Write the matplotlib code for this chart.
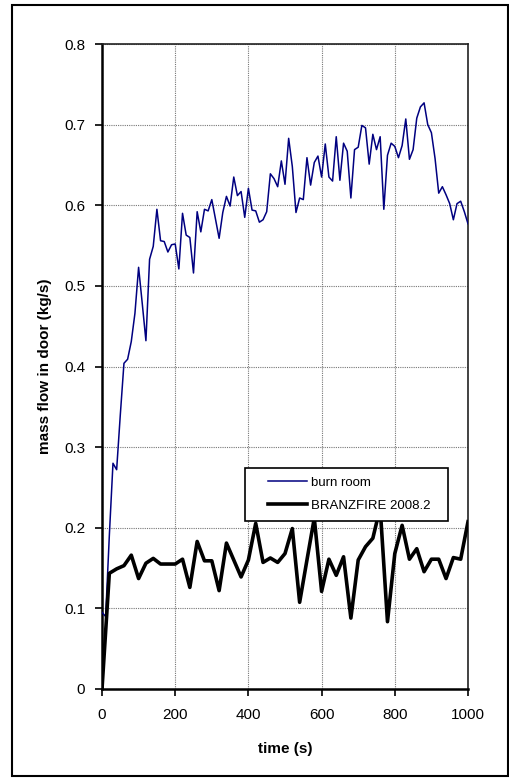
import numpy as np
import matplotlib
matplotlib.use("Agg")
from matplotlib import pyplot as plt
from matplotlib.patches import Rectangle

plt.rcParams['font.family'] = ['Liberation Sans', 'DejaVu Sans']

# burn room measurement, every 10 s from 0 to 1000 s
burn_t = np.arange(0, 1001, 10)
burn_room = [
    0.095, 0.090, 0.190, 0.280, 0.272, 0.340, 0.404, 0.409, 0.431, 0.466,
    0.523, 0.478, 0.432, 0.533, 0.549, 0.595, 0.556, 0.555, 0.542, 0.551,
    0.552, 0.521, 0.590, 0.563, 0.560, 0.516, 0.592, 0.567, 0.595, 0.593,
    0.607, 0.583, 0.559, 0.591, 0.611, 0.599, 0.635, 0.612, 0.617, 0.585,
    0.621, 0.594, 0.593, 0.579, 0.582, 0.592, 0.639, 0.633, 0.623, 0.655,
    0.626, 0.683, 0.648, 0.591, 0.609, 0.607, 0.659, 0.625, 0.653, 0.661,
    0.635, 0.676, 0.635, 0.630, 0.685, 0.631, 0.677, 0.667, 0.609, 0.669,
    0.672, 0.699, 0.696, 0.651, 0.688, 0.669, 0.685, 0.595, 0.662, 0.677,
    0.673, 0.659, 0.674, 0.707, 0.657, 0.669, 0.708, 0.722, 0.727, 0.700,
    0.690, 0.658, 0.615, 0.623, 0.613, 0.602, 0.582, 0.602, 0.605, 0.592,
    0.577,
]

# BRANZFIRE model, every 20 s
branz_t = np.arange(0, 1001, 20)
branzfire = [
    0.0, 0.1435, 0.149, 0.153, 0.166, 0.137, 0.156, 0.162, 0.155, 0.155,
    0.155, 0.161, 0.126, 0.183, 0.159, 0.159, 0.122, 0.181, 0.160, 0.139,
    0.160, 0.2055, 0.157, 0.1625, 0.157, 0.168, 0.199, 0.1075, 0.160, 0.212,
    0.121, 0.161, 0.141, 0.164, 0.088, 0.160, 0.1765, 0.187, 0.225, 0.0835,
    0.168, 0.203, 0.161, 0.174, 0.1455, 0.161, 0.161, 0.137, 0.163, 0.161,
    0.2075,
]

xticks = [0, 200, 400, 600, 800, 1000]
yticks = [0, 0.1, 0.2, 0.3, 0.4, 0.5, 0.6, 0.7, 0.8]

fig = plt.figure(figsize=(5.1, 7.8), dpi=100)
ax = fig.add_axes([102/510, 1-689/780, 366/510, 645/780])

ax.plot(burn_t, burn_room, color="#000080", lw=1.1, label="burn room", zorder=3)
ax.plot(branz_t, branzfire, color="black", lw=2.6, label="BRANZFIRE 2008.2", zorder=3)

ax.set_xlim(0, 1000)
ax.set_ylim(0, 0.8)
ax.set_xticks(xticks)
ax.set_yticks(yticks)
ax.set_yticklabels(["%g" % v for v in yticks])
ax.tick_params(labelsize=11, length=5, width=1.2)
ax.tick_params(axis='x', pad=9)
ax.tick_params(axis='y', pad=7)
ax.grid(True, color="#777777", lw=0.8, ls=(0, (1, 1)))
ax.set_axisbelow(True)

for side in ['left', 'bottom']:
    ax.spines[side].set_linewidth(1.8)
for side in ['top', 'right']:
    ax.spines[side].set_linewidth(1.2)
    ax.spines[side].set_color("#222222")

ax.set_xlabel("time (s)", fontsize=11, fontweight="bold", labelpad=14)
ax.set_ylabel("mass flow in door (kg/s)", fontsize=11, fontweight="bold", labelpad=9)

#Legend box drawn by hand so the padding matches
box = Rectangle((0.3907, 0.2605), 0.5546, 0.0822, transform=ax.transAxes,
                facecolor="white", edgecolor="black", lw=1.2, zorder=4)
ax.add_patch(box)
leg = ax.legend(loc="upper left", bbox_to_anchor=(0.4527, 0.329), frameon=False,
                fontsize=9.5, borderpad=0, borderaxespad=0, handlelength=2.95,
                handletextpad=0.3, labelspacing=0.8)
leg.set_zorder(5)

#Outer frame around the whole figure
fig.patches.append(Rectangle((12/510, 4/780), 496/510, 771/780, transform=fig.transFigure,
                             fill=False, edgecolor="black", lw=1.5))

plt.savefig("out.png", dpi=100)
plt.close()
